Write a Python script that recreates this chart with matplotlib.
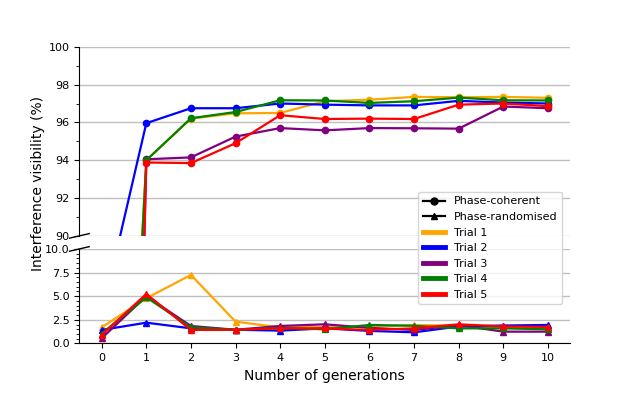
import matplotlib
matplotlib.use("Agg")
import matplotlib.pyplot as plt
from matplotlib.lines import Line2D
from matplotlib.ticker import AutoMinorLocator, MultipleLocator

generations = list(range(11))
trial_names = ["Trial 1", "Trial 2", "Trial 3", "Trial 4", "Trial 5"]
trial_colors = ["orange", "blue", "purple", "green", "red"]

# phase-coherent visibility (%), one list per trial
coherent_t1 = [49.5, 94.0, 96.2, 96.48, 96.5, 97.12, 97.2, 97.35, 97.33, 97.35, 97.3]
coherent_t2 = [85.8, 95.96, 96.75, 96.75, 97.0, 96.94, 96.9, 96.9, 97.14, 97.05, 97.0]
coherent_t3 = [2.0, 94.05, 94.15, 95.25, 95.7, 95.58, 95.7, 95.69, 95.67, 96.84, 96.75]
coherent_t4 = [49.6, 94.0, 96.22, 96.55, 97.17, 97.16, 97.03, 97.12, 97.31, 97.17, 97.16]
coherent_t5 = [2.0, 93.88, 93.85, 94.9, 96.38, 96.18, 96.2, 96.18, 96.94, 97.0, 96.86]

# phase-randomised visibility (%)
randomised_t1 = [1.7, 4.78, 7.25, 2.31, 1.7, 1.75, 1.78, 1.96, 1.87, 1.7, 1.55]
randomised_t2 = [1.43, 2.2, 1.6, 1.45, 1.36, 1.6, 1.33, 1.18, 1.8, 1.9, 1.96]
randomised_t3 = [0.55, 5.0, 1.85, 1.45, 1.85, 2.03, 1.65, 1.43, 1.93, 1.25, 1.25]
randomised_t4 = [1.05, 4.89, 1.7, 1.45, 1.65, 1.5, 1.96, 1.87, 1.6, 1.6, 1.5]
randomised_t5 = [0.9, 5.24, 1.43, 1.45, 1.6, 1.6, 1.43, 1.6, 2.03, 1.8, 1.75]

coherent = [coherent_t1, coherent_t2, coherent_t3, coherent_t4, coherent_t5]
randomised = [randomised_t1, randomised_t2, randomised_t3, randomised_t4, randomised_t5]

fig = plt.figure(figsize=(6.35, 3.93), dpi=100)
gs = fig.add_gridspec(2, 1, height_ratios=[2, 1], hspace=0.092,
                      left=0.125, right=0.898, top=0.881, bottom=0.126)
ax1 = fig.add_subplot(gs[0])
ax2 = fig.add_subplot(gs[1], sharex=ax1)

for vals, col in zip(coherent, trial_colors):
    ax1.plot(generations, vals, color=col, marker="o", lw=1.6, ms=4.5)
for vals, col in zip(randomised, trial_colors):
    ax2.plot(generations, vals, color=col, marker="^", lw=1.6, ms=5)

grid_kw = dict(color="#c0c0c0", lw=1)
ax1.set_ylim(90, 100)
ax1.yaxis.set_major_locator(MultipleLocator(2))
ax1.yaxis.set_minor_locator(AutoMinorLocator(2))
ax1.grid(axis="y", **grid_kw)
ax1.set_axisbelow(True)
for s in ["top", "right", "bottom"]:
    ax1.spines[s].set_visible(False)
ax1.tick_params(axis="x", which="both", bottom=False, labelbottom=False)
ax1.tick_params(axis="y", labelsize=8)

ax2.set_ylim(0, 10)
ax2.set_xlim(-0.5, 10.5)
ax2.yaxis.set_major_locator(MultipleLocator(2.5))
ax2.yaxis.set_minor_locator(AutoMinorLocator(5))
ax2.yaxis.set_major_formatter(matplotlib.ticker.FormatStrFormatter("%.1f"))
ax2.set_xticks(generations)
ax2.grid(axis="y", **grid_kw)
ax2.set_axisbelow(True)
for s in ["top", "right"]:
    ax2.spines[s].set_visible(False)
ax2.tick_params(labelsize=8)
ax2.set_xlabel("Number of generations", fontsize=10)

# break marks on the left spine
dx = 0.02
ax1.plot([-dx, dx], [-0.012, 0.012], transform=ax1.transAxes, color="k", lw=1, clip_on=False)
ax2.plot([-dx, dx], [1 - 0.024, 1 + 0.024], transform=ax2.transAxes, color="k", lw=1, clip_on=False)

fig.text(0.06, 0.533, "Interference visibility (%)", rotation=90,
         ha="center", va="center", fontsize=10)

handles = [Line2D([], [], color="k", marker="o", lw=1.6, ms=5),
           Line2D([], [], color="k", marker="^", lw=1.6, ms=5)]
handles += [Line2D([], [], color=c, lw=3.5) for c in trial_colors]
labels = ["Phase-coherent", "Phase-randomised"] + trial_names
fig.legend(handles, labels, loc="upper right", bbox_to_anchor=(562 / 635, 1 - 192 / 393),
           borderaxespad=0, fontsize=8)

fig.savefig("out.png", dpi=100)
